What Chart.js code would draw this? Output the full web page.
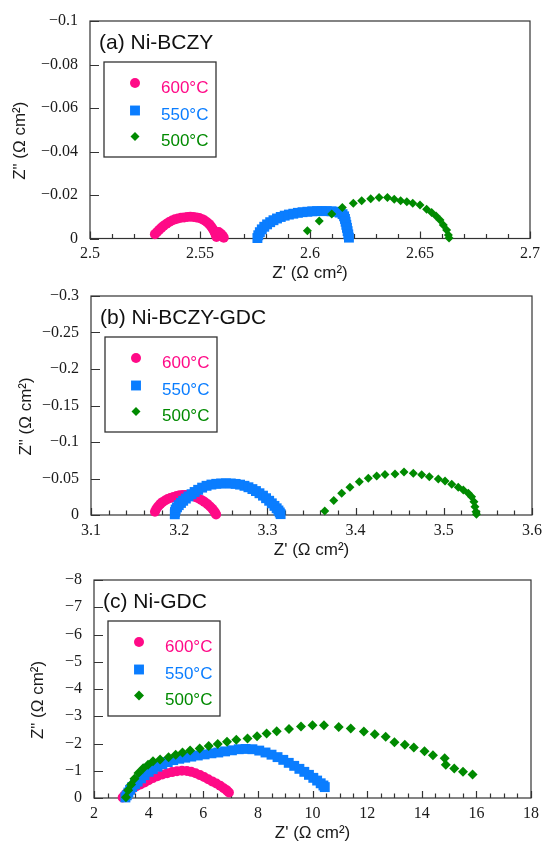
<!DOCTYPE html>
<html>
<head>
<meta charset="utf-8">
<script src="https://cdn.jsdelivr.net/npm/chart.js@4/dist/chart.umd.min.js"></script>
<style>
  html, body { margin: 0; padding: 0; background: #fff; }
  .panel { position: absolute; left: 0; width: 542px; height: 281px; }
</style>
</head>
<body>
<div class="panel" style="top:0"><canvas id="chartA" width="542" height="281"></canvas></div>
<div class="panel" style="top:281px"><canvas id="chartB" width="542" height="281"></canvas></div>
<div class="panel" style="top:562px"><canvas id="chartC" width="542" height="281"></canvas></div>
<script>
// --- Data: Nyquist plots, Z' vs Z'' (ohm cm2) ---
const temps = ['600°C', '550°C', '500°C'];

// (a) Ni-BCZY
const xTicksA = [2.5, 2.55, 2.6, 2.65, 2.7];
const yTicksA = [-0.1, -0.08, -0.06, -0.04, -0.02, 0];
const reA600 = [2.5295, 2.5305, 2.5315, 2.5325, 2.5335, 2.5348, 2.5360, 2.5373, 2.5386, 2.5400, 2.5414, 2.5428, 2.5442, 2.5456, 2.5470, 2.5484, 2.5497, 2.5510, 2.5521, 2.5532, 2.5542, 2.5550, 2.5557, 2.5563, 2.5568, 2.5572, 2.5575, 2.5585, 2.5595, 2.5603, 2.5608];
const imA600 = [-0.0020, -0.0030, -0.0040, -0.0050, -0.0059, -0.0068, -0.0076, -0.0083, -0.0088, -0.0092, -0.0095, -0.0097, -0.0099, -0.0100, -0.0099, -0.0097, -0.0094, -0.0089, -0.0083, -0.0075, -0.0066, -0.0056, -0.0046, -0.0036, -0.0026, -0.0016, -0.0007, -0.0030, -0.0022, -0.0013, -0.0004];
const reA550 = [2.5761, 2.5765, 2.5772, 2.5781, 2.5792, 2.5805, 2.5819, 2.5834, 2.5850, 2.5867, 2.5885, 2.5904, 2.5924, 2.5945, 2.5966, 2.5988, 2.6010, 2.6032, 2.6054, 2.6076, 2.6098, 2.6118, 2.6135, 2.6148, 2.6155, 2.6159, 2.6162, 2.6165, 2.6168, 2.6171, 2.6174, 2.6177];
const imA550 = [-0.0002, -0.0015, -0.0029, -0.0042, -0.0054, -0.0065, -0.0075, -0.0084, -0.0092, -0.0099, -0.0105, -0.0110, -0.0114, -0.0118, -0.0121, -0.0123, -0.0125, -0.0126, -0.0126, -0.0126, -0.0125, -0.0123, -0.0119, -0.0112, -0.0102, -0.0090, -0.0077, -0.0063, -0.0049, -0.0034, -0.0019, -0.0004];
const reA500 = [2.5988, 2.6042, 2.6099, 2.6147, 2.6197, 2.6235, 2.6276, 2.6314, 2.6352, 2.6383, 2.6412, 2.6440, 2.6467, 2.6500, 2.6530, 2.6553, 2.6573, 2.6591, 2.6606, 2.6621, 2.6629, 2.6632];
const imA500 = [-0.0036, -0.0080, -0.0113, -0.0142, -0.0162, -0.0174, -0.0183, -0.0188, -0.0188, -0.0180, -0.0174, -0.0169, -0.0162, -0.0154, -0.0134, -0.0119, -0.0103, -0.0085, -0.0062, -0.0039, -0.0016, -0.0002];

// (b) Ni-BCZY-GDC
const xTicksB = [3.1, 3.2, 3.3, 3.4, 3.5, 3.6];
const yTicksB = [-0.3, -0.25, -0.2, -0.15, -0.1, -0.05, 0];
const reB600 = [3.1725, 3.1740, 3.1760, 3.1785, 3.1810, 3.1840, 3.1870, 3.1900, 3.1935, 3.1970, 3.2005, 3.2040, 3.2075, 3.2110, 3.2145, 3.2180, 3.2215, 3.2250, 3.2285, 3.2320, 3.2350, 3.2375, 3.2395, 3.2410, 3.2418];
const imB600 = [-0.0045, -0.0081, -0.0117, -0.0149, -0.0176, -0.0198, -0.0218, -0.0234, -0.0248, -0.0261, -0.0270, -0.0275, -0.0275, -0.0270, -0.0261, -0.0248, -0.0230, -0.0207, -0.0180, -0.0149, -0.0117, -0.0086, -0.0054, -0.0027, -0.0007];
const reB550 = [3.1950, 3.1952, 3.1960, 3.1975, 3.1995, 3.2020, 3.2045, 3.2075, 3.2105, 3.2140, 3.2175, 3.2215, 3.2260, 3.2310, 3.2365, 3.2420, 3.2475, 3.2530, 3.2585, 3.2640, 3.2690, 3.2740, 3.2785, 3.2830, 3.2870, 3.2910, 3.2950, 3.2985, 3.3020, 3.3050, 3.3080, 3.3105, 3.3125, 3.3140, 3.3150];
const imB550 = [-0.0010, -0.0040, -0.0075, -0.0105, -0.0135, -0.0165, -0.0195, -0.0225, -0.0255, -0.0285, -0.0315, -0.0345, -0.0375, -0.0400, -0.0417, -0.0427, -0.0432, -0.0434, -0.0432, -0.0426, -0.0416, -0.0400, -0.0380, -0.0355, -0.0328, -0.0298, -0.0265, -0.0230, -0.0195, -0.0160, -0.0125, -0.0092, -0.0062, -0.0035, -0.0012];
const reB500 = [3.3650, 3.3752, 3.3842, 3.3936, 3.4042, 3.4144, 3.4239, 3.4333, 3.4447, 3.4549, 3.4654, 3.4749, 3.4836, 3.4938, 3.5014, 3.5090, 3.5164, 3.5221, 3.5278, 3.5315, 3.5342, 3.5353, 3.5365, 3.5370];
const imB500 = [-0.0055, -0.0200, -0.0297, -0.0379, -0.0457, -0.0502, -0.0534, -0.0556, -0.0562, -0.0590, -0.0571, -0.0553, -0.0525, -0.0493, -0.0466, -0.0420, -0.0379, -0.0342, -0.0297, -0.0251, -0.0183, -0.0114, -0.0046, -0.0010];

// (c) Ni-GDC
const xTicksC = [2, 4, 6, 8, 10, 12, 14, 16, 18];
const yTicksC = [-8, -7, -6, -5, -4, -3, -2, -1, 0];
const reC600 = [3.05, 3.12, 3.20, 3.30, 3.42, 3.55, 3.70, 3.85, 4.00, 4.15, 4.32, 4.50, 4.68, 4.86, 5.04, 5.22, 5.40, 5.56, 5.72, 5.88, 6.03, 6.18, 6.33, 6.48, 6.62, 6.75, 6.86, 6.94];
const imC600 = [-0.02, -0.10, -0.18, -0.26, -0.35, -0.43, -0.50, -0.57, -0.65, -0.73, -0.80, -0.86, -0.91, -0.95, -0.98, -1.00, -0.99, -0.96, -0.91, -0.84, -0.77, -0.69, -0.61, -0.53, -0.45, -0.36, -0.28, -0.20];
const reC550 = [3.15, 3.20, 3.26, 3.32, 3.40, 3.50, 3.60, 3.72, 3.85, 4.00, 4.15, 4.32, 4.50, 4.70, 4.90, 5.12, 5.34, 5.56, 5.80, 6.05, 6.30, 6.55, 6.80, 7.05, 7.30, 7.55, 7.80, 8.05, 8.28, 8.50, 8.72, 8.93, 9.13, 9.33, 9.52, 9.70, 9.87, 10.03, 10.17, 10.30, 10.40, 10.45];
const imC550 = [-0.02, -0.10, -0.20, -0.30, -0.40, -0.50, -0.60, -0.72, -0.84, -0.96, -1.06, -1.15, -1.24, -1.32, -1.39, -1.44, -1.48, -1.52, -1.56, -1.60, -1.64, -1.67, -1.71, -1.75, -1.79, -1.80, -1.79, -1.74, -1.67, -1.59, -1.50, -1.40, -1.29, -1.18, -1.07, -0.96, -0.85, -0.74, -0.64, -0.54, -0.46, -0.40];
const reC500 = [3.17, 3.25, 3.36, 3.48, 3.63, 3.80, 3.98, 4.16, 4.42, 4.73, 4.99, 5.24, 5.52, 5.87, 6.20, 6.53, 6.87, 7.21, 7.62, 7.97, 8.32, 8.69, 9.14, 9.58, 10.00, 10.42, 10.96, 11.40, 11.88, 12.28, 12.68, 13.00, 13.38, 13.71, 14.10, 14.41, 14.84, 14.88, 15.19, 15.51, 15.86];
const imC500 = [-0.03, -0.28, -0.50, -0.71, -0.92, -1.09, -1.22, -1.35, -1.41, -1.50, -1.59, -1.67, -1.74, -1.82, -1.91, -1.98, -2.06, -2.14, -2.18, -2.27, -2.37, -2.45, -2.53, -2.62, -2.67, -2.67, -2.61, -2.55, -2.44, -2.34, -2.25, -2.05, -1.95, -1.85, -1.72, -1.57, -1.46, -1.22, -1.08, -0.96, -0.86];

// --- Styles ---
const COLORS = ['#ff0a87', '#0a7dff', '#008a00'];
const STYLES = ['circle', 'rect', 'rectRot'];
const SANS = '"Liberation Sans", Arial, sans-serif';
const SERIF = '"Liberation Serif", "Times New Roman", serif';

const panels = [
    {
        id: 'chartA', title: '(a) Ni-BCZY',
        xMin: 2.5, xMax: 2.7, yMin: -0.1, yMax: 0, xMinor: 0.01,
        xTicks: xTicksA, yTicks: yTicksA,
        area: { left: 90, right: 530, top: 21, bottom: 238.5 },
        yTitleX: 20,
        radii: [5, 7, 4.5],
        series: [[reA600, imA600], [reA550, imA550], [reA500, imA500]]
    },
    {
        id: 'chartB', title: '(b) Ni-BCZY-GDC',
        xMin: 3.1, xMax: 3.6, yMin: -0.3, yMax: 0, xMinor: 0.02,
        xTicks: xTicksB, yTicks: yTicksB,
        area: { left: 91, right: 532, top: 15, bottom: 234 },
        yTitleX: 26.5,
        radii: [5, 7, 4.5],
        series: [[reB600, imB600], [reB550, imB550], [reB500, imB500]]
    },
    {
        id: 'chartC', title: '(c) Ni-GDC',
        xMin: 2, xMax: 18, yMin: -8, yMax: 0, xMinor: 0.5,
        xTicks: xTicksC, yTicks: yTicksC,
        area: { left: 94, right: 531, top: 18, bottom: 236 },
        yTitleX: 38,
        radii: [5, 7, 5],
        series: [[reC600, imC600], [reC550, imC550], [reC500, imC500]]
    }
];

function fmt(v) {
    if (v === 0) return '0';
    return v < 0 ? '\u2212' + String(-v) : String(v);
}

// --- Frame + inward ticks ---
const framePlugin = {
    id: 'frame',
    beforeDatasetsDraw(chart, args, opts) {
        const { ctx, chartArea: a, scales: { x, y } } = chart;
        ctx.save();
        ctx.strokeStyle = '#333';
        ctx.lineWidth = 1.2;
        ctx.strokeRect(a.left, a.top, a.right - a.left, a.bottom - a.top);

        ctx.beginPath();
        const n = Math.round((opts.xMax - opts.xMin) / opts.xMinor);
        for (let i = 0; i <= n; i++) {
            const v = opts.xMin + i * opts.xMinor;
            const major = opts.xTicks.some(t => Math.abs(t - v) < opts.xMinor / 10);
            const px = Math.round(x.getPixelForValue(v)) + 0.5;
            ctx.moveTo(px, a.bottom);
            ctx.lineTo(px, a.bottom - (major ? 7 : 4.5));
        }
        opts.yTicks.forEach(t => {
            const py = Math.round(y.getPixelForValue(t)) + 0.5;
            ctx.moveTo(a.left, py);
            ctx.lineTo(a.left + 9, py);
        });
        ctx.stroke();
        ctx.restore();
    }
};

// small marker for the legend
function marker(ctx, style, r, x, y) {
    ctx.beginPath();
    if (style === 'circle') {
        ctx.arc(x, y, r, 0, Math.PI * 2);
    } else if (style === 'rect') {
        const s = r * Math.SQRT1_2;
        ctx.rect(x - s, y - s, 2 * s, 2 * s);
    } else {
        ctx.moveTo(x, y - r); ctx.lineTo(x + r, y); ctx.lineTo(x, y + r); ctx.lineTo(x - r, y);
        ctx.closePath();
    }
    ctx.fill();
}

// --- Title, legend box and axis titles ---
const labelPlugin = {
    id: 'labels',
    afterDraw(chart, args, opts) {
        const { ctx, chartArea: a } = chart;
        ctx.save();

        ctx.fillStyle = '#111';
        ctx.font = '21px ' + SANS;
        ctx.textBaseline = 'middle';
        ctx.textAlign = 'left';
        ctx.fillText(opts.title, a.left + 9, a.top + 22);

        // legend box
        ctx.strokeStyle = '#333';
        ctx.lineWidth = 1.3;
        ctx.strokeRect(a.left + 14, a.top + 41, 112, 95);
        const rows = [62, 89.5, 115.5];
        chart.data.datasets.forEach((ds, i) => {
            ctx.fillStyle = COLORS[i];
            marker(ctx, STYLES[i], opts.radii[i], a.left + 45, a.top + rows[i]);
            ctx.font = '17px ' + SANS;
            ctx.fillText(ds.label, a.left + 71, a.top + rows[i] + 5);
        });

        // axis titles
        ctx.fillStyle = '#1a1a1a';
        ctx.font = '17px ' + SANS;
        ctx.textAlign = 'center';
        ctx.fillText("Z' (\u03A9 cm\u00B2)", (a.left + a.right) / 2, a.bottom + 35);
        ctx.translate(opts.yTitleX, (a.top + a.bottom) / 2 + 11);
        ctx.rotate(-Math.PI / 2);
        ctx.fillText('Z" (\u03A9 cm\u00B2)', 0, 0);
        ctx.restore();
    }
};

function makeChart(p) {
    const a = p.area;
    const tickFont = { family: SERIF, size: 16 };
    return new Chart(document.getElementById(p.id), {
        type: 'scatter',
        data: {
            datasets: p.series.map((s, i) => ({
                label: temps[i],
                data: s[0].map((v, k) => ({ x: v, y: s[1][k] })),
                pointStyle: STYLES[i],
                pointRadius: p.radii[i],
                pointBackgroundColor: COLORS[i],
                pointBorderWidth: 0,
                order: 3 - i,
                clip: false
            }))
        },
        options: {
            responsive: false,
            animation: false,
            events: [],
            layout: { padding: { left: 0, top: a.top, right: 542 - a.right, bottom: 0 } },
            plugins: {
                legend: { display: false },
                tooltip: { enabled: false },
                frame: { xMin: p.xMin, xMax: p.xMax, xMinor: p.xMinor, xTicks: p.xTicks, yTicks: p.yTicks },
                labels: { title: p.title, yTitleX: p.yTitleX, radii: p.radii }
            },
            scales: {
                x: {
                    type: 'linear', min: p.xMin, max: p.xMax,
                    grid: { display: false, drawTicks: false },
                    border: { display: false },
                    ticks: { font: tickFont, color: '#1a1a1a', padding: 6, maxRotation: 0, autoSkip: false, callback: fmt },
                    afterBuildTicks: s => { s.ticks = p.xTicks.map(v => ({ value: v })); },
                    afterFit: s => { s.height = 281 - a.bottom; s.paddingLeft = 0; s.paddingRight = 0; }
                },
                y: {
                    type: 'linear', min: p.yMin, max: p.yMax, reverse: true,
                    grid: { display: false, drawTicks: false },
                    border: { display: false },
                    ticks: { font: tickFont, color: '#1a1a1a', padding: 12, autoSkip: false, callback: fmt },
                    afterBuildTicks: s => { s.ticks = p.yTicks.map(v => ({ value: v })); },
                    afterFit: s => { s.width = a.left; s.paddingTop = 0; s.paddingBottom = 0; }
                }
            }
        },
        plugins: [framePlugin, labelPlugin]
    });
}

panels.forEach(makeChart);
</script>
</body>
</html>
